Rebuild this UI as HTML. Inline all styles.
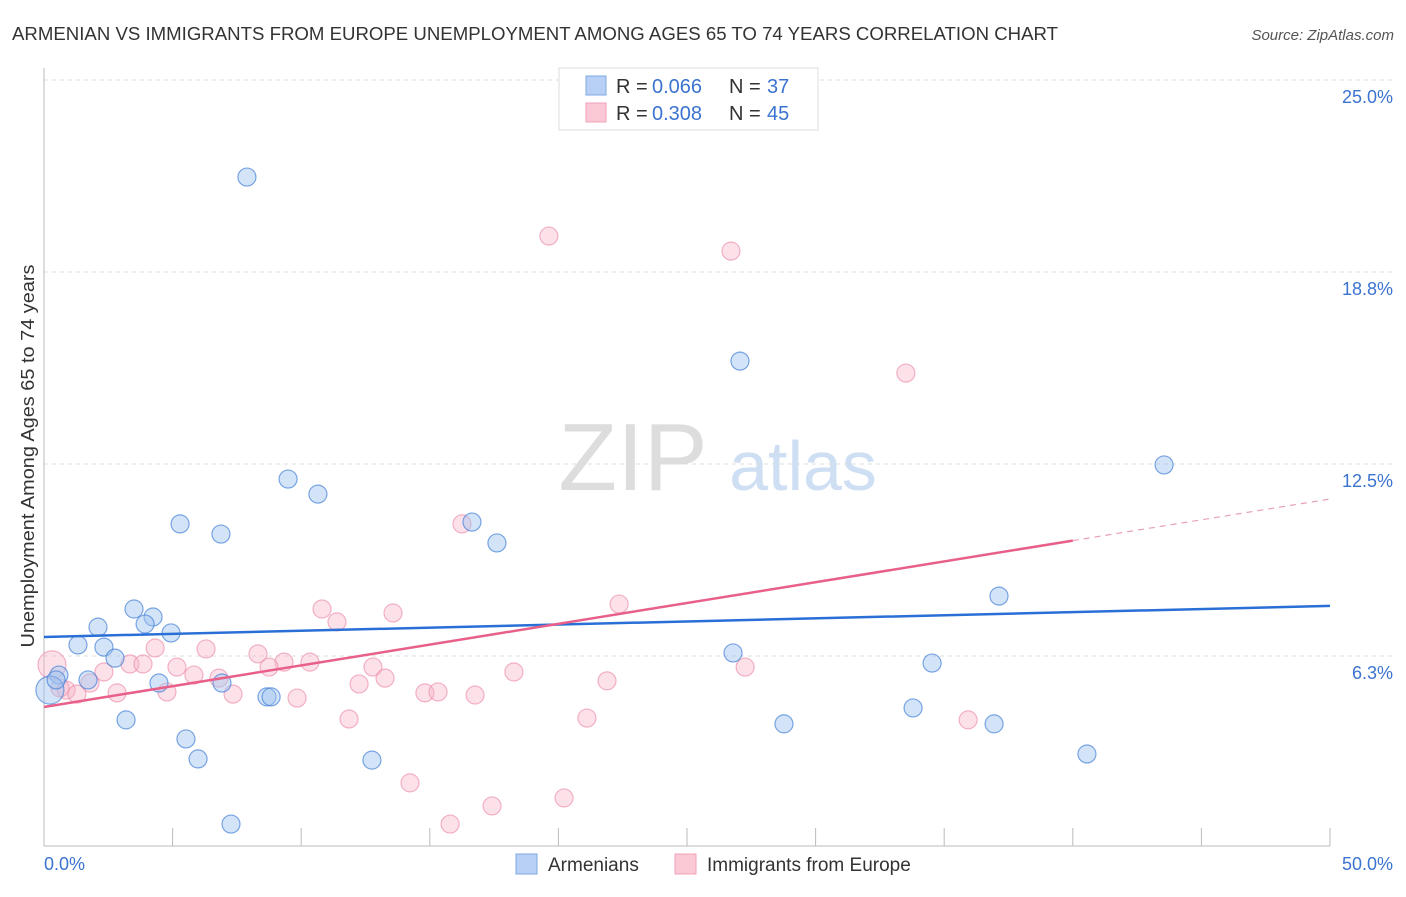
<!DOCTYPE html>
<html><head><meta charset="utf-8"><style>
body{margin:0;background:#fff;font-family:"Liberation Sans",sans-serif}
svg text{font-family:"Liberation Sans",sans-serif}
</style></head><body>
<svg id="c" width="1406" height="892" viewBox="0 0 1406 892" xmlns="http://www.w3.org/2000/svg">
<text x="12" y="40" font-size="18" fill="#333" textLength="1046" lengthAdjust="spacingAndGlyphs">ARMENIAN VS IMMIGRANTS FROM EUROPE UNEMPLOYMENT AMONG AGES 65 TO 74 YEARS CORRELATION CHART</text>
<text x="1394" y="40" font-size="15" fill="#555" font-style="italic" text-anchor="end">Source: ZipAtlas.com</text>
<g>
<text x="633" y="490" font-size="96" fill="#ddd" font-family="Liberation Serif" text-anchor="middle">ZIP</text>
<text x="803" y="490" font-size="70" fill="#cfdff3" text-anchor="middle">atlas</text>
</g>
<g id="grid"></g>
<line x1="44" y1="68" x2="44" y2="846" stroke="#bbb"/>
<line x1="44" y1="846" x2="1330" y2="846" stroke="#bbb"/>
<g id="ticks"></g>
<text transform="translate(34,456) rotate(-90)" font-size="18" fill="#333" text-anchor="middle" textLength="383" lengthAdjust="spacingAndGlyphs">Unemployment Among Ages 65 to 74 years</text>
<text x="44" y="870" font-size="18" fill="#3b73d0">0.0%</text>
<text x="1393" y="870" font-size="18" fill="#3b73d0" text-anchor="end">50.0%</text>
<g id="pts"></g>
<g id="lines"></g>
<g>
<rect x="559" y="68" width="259" height="62" fill="#fff" stroke="#ddd"/>
<rect x="586" y="76" width="20" height="19" fill="#b8d0f5" stroke="#7fa8e0"/>
<rect x="586" y="103" width="20" height="19" fill="#fbc8d6" stroke="#f0a0b8"/>
<text x="616" y="93" font-size="20" fill="#333">R =</text>
<text x="652" y="93" font-size="20" fill="#3b73d0">0.066</text>
<text x="729" y="93" font-size="20" fill="#333">N =</text>
<text x="767" y="93" font-size="20" fill="#3b73d0">37</text>
<text x="616" y="120" font-size="20" fill="#333">R =</text>
<text x="652" y="120" font-size="20" fill="#3b73d0">0.308</text>
<text x="729" y="120" font-size="20" fill="#333">N =</text>
<text x="767" y="120" font-size="20" fill="#3b73d0">45</text>
</g>
<g>
<rect x="516" y="854" width="21" height="20" fill="#b8d0f5" stroke="#7fa8e0"/>
<text x="548" y="871" font-size="19" fill="#333">Armenians</text>
<rect x="675" y="854" width="21" height="20" fill="#fbc8d6" stroke="#f0a0b8"/>
<text x="707" y="871" font-size="19" fill="#333">Immigrants from Europe</text>
</g>
</svg>
<script>
const yTicks=[6.25,12.5,18.75,25];
const yTickLabels=["6.3%","12.5%","18.8%","25.0%"];
const xTicks=[0,5,10,15,20,25,30,35,40,45,50];
const blueX=[7.89,27.06,43.55,9.49,10.65,5.29,16.64,6.88,17.61,37.13,3.50,4.24,2.10,3.93,4.94,1.32,2.33,2.76,26.79,34.53,0.58,1.71,4.47,6.92,8.67,8.83,33.79,3.19,28.77,36.94,5.52,5.99,12.75,40.55,7.27,0.23,0.47];
const blueY=[21.84,15.85,12.47,12.01,11.52,10.55,10.61,10.22,9.93,8.20,7.78,7.52,7.19,7.29,7.00,6.61,6.54,6.18,6.35,6.02,5.63,5.47,5.37,5.37,4.92,4.92,4.56,4.17,4.04,4.04,3.55,2.90,2.86,3.06,0.78,5.14,5.47];
const pinkX=[19.63,26.71,33.51,16.25,22.36,10.81,13.57,11.39,6.30,4.32,0.31,2.33,3.34,3.85,5.17,8.32,9.33,10.34,5.83,6.80,8.75,12.79,18.27,27.26,12.25,13.26,21.89,1.79,2.84,4.78,7.35,9.84,14.81,15.32,16.76,11.86,21.11,35.93,14.23,17.42,20.22,15.79,0.86,1.28,0.62];
const pinkY=[19.92,19.43,15.46,10.55,7.94,7.78,7.65,7.36,6.48,6.51,5.96,5.73,5.99,5.99,5.89,6.32,6.05,6.05,5.63,5.53,5.89,5.89,5.73,5.89,5.34,5.53,5.44,5.37,5.05,5.08,5.01,4.88,5.05,5.08,4.98,4.20,4.23,4.17,2.12,1.37,1.63,0.78,5.14,5.01,5.21];
const blueTrend=[6.87,7.88];
const pinkTrend=[4.59,11.36];
const pinkSolidEnd=40;
const NS="http://www.w3.org/2000/svg";
const X=v=>44+v*25.72, Y=v=>848-v*30.72;
function mk(t,a,p){const e=document.createElementNS(NS,t);for(const k in a)e.setAttribute(k,a[k]);p.appendChild(e);return e;}
const grid=document.getElementById('grid'),ticks=document.getElementById('ticks'),pts=document.getElementById('pts'),lines=document.getElementById('lines');
yTicks.forEach((t,i)=>{
 const l=mk('line',{x1:44,x2:1392,y1:Y(t),y2:Y(t),stroke:'#ddd','stroke-dasharray':'4,4'},grid);
 
 
 const tx=mk('text',{x:1393,y:Y(t)+23,'font-size':18,fill:'#3b73d0','text-anchor':'end'},grid);
 tx.textContent=yTickLabels[i];
 
 
});
xTicks.forEach(t=>{
 const l=mk('line',{x1:X(t),x2:X(t),y1:828,y2:846,stroke:'#bbb'},ticks);
 
 
});
function dots(xs,ys,fill,stroke,name){
 xs.forEach((x,i)=>{
  const r=x<0.4?14:9;
  const c=mk('circle',{cx:X(x),cy:Y(ys[i]),r:r,fill:fill,stroke:stroke,'stroke-width':1.2},pts);
  
  
 });
}
dots(pinkX,pinkY,'rgba(248,180,200,0.4)','rgba(236,140,170,0.65)','point-immigrants');
dots(blueX,blueY,'rgba(160,196,240,0.45)','rgba(70,130,215,0.7)','point-armenians');
const bl=mk('line',{x1:X(0),y1:Y(blueTrend[0]),x2:X(50),y2:Y(blueTrend[1]),stroke:'#2a6fd6','stroke-width':2.5},lines);


const pe=pinkTrend[0]+(pinkTrend[1]-pinkTrend[0])*pinkSolidEnd/50;
const pl=mk('line',{x1:X(0),y1:Y(pinkTrend[0]),x2:X(pinkSolidEnd),y2:Y(pe),stroke:'#e8608a','stroke-width':2.5},lines);


const pd=mk('line',{x1:X(pinkSolidEnd),y1:Y(pe),x2:X(50),y2:Y(pinkTrend[1]),stroke:'#e8a0b8','stroke-width':1.2,'stroke-dasharray':'6,5'},lines);


</script>
</body></html>
